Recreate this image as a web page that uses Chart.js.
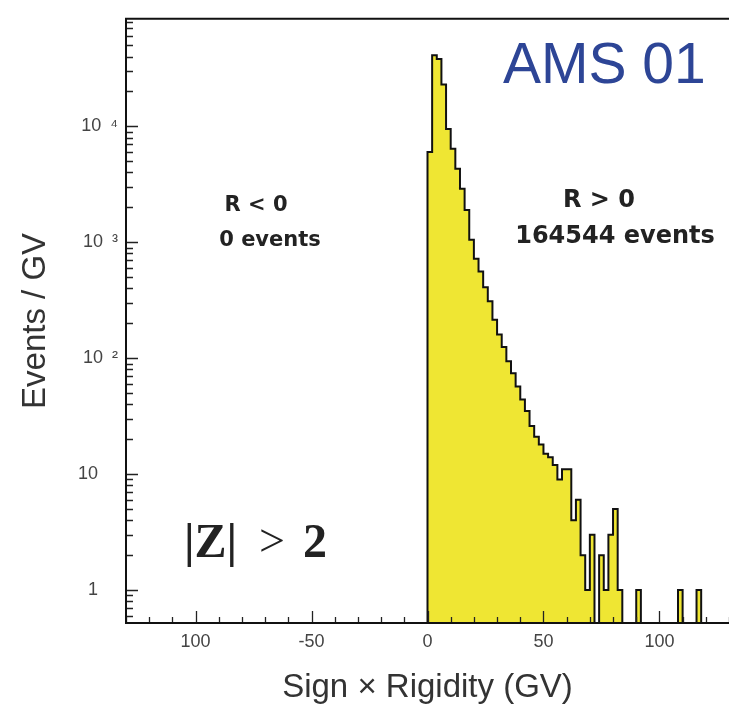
<!DOCTYPE html>
<html>
<head>
<meta charset="utf-8">
<title>AMS 01 - |Z| > 2 - Sign x Rigidity</title>
<script src="https://cdn.jsdelivr.net/npm/chart.js@4.4.1/dist/chart.umd.min.js"></script>
<style>
  html, body { margin: 0; padding: 0; background: #fff; overflow: hidden; }
  #chart { display: block; }
</style>
</head>
<body>
<canvas id="chart" width="729" height="714"></canvas>
<script>
/* AMS-01 |Z|>2 : events per GV vs sign x rigidity */

// lower edge of each rigidity bin (GV), bins are 2 GV wide
var BIN_LOW = [0, 2, 4, 6, 8, 10, 12, 14, 16, 18,
  20, 22, 24, 26, 28, 30, 32, 34, 36, 38,
  40, 42, 44, 46, 48, 50, 52, 54, 56, 58,
  60, 62, 64, 66, 68, 70, 72, 74, 76, 78,
  80, 82, 84, 86, 88, 90, 92, 94, 96, 98,
  100, 102, 104, 106, 108, 110, 112, 114, 116];
var BIN_WIDTH = 2;

// events / GV (R > 0 only, R < 0 is empty)
var EVENTS = [6000, 41000, 38000, 23000, 9500, 6400, 4300, 2900, 1900, 1050,
  720, 560, 410, 310, 215, 160, 125, 94, 74, 57,
  44, 35, 26, 21, 18, 15, 14, 12, 9, 11,
  11, 4, 6, 2, 1, 3, 0, 2, 1, 3,
  5, 1, 0, 0, 0, 1, 0, 0, 0, 0,
  0, 0, 0, 0, 1, 0, 0, 0, 1];

var X_MIN = -130;
var X_MAX = 130;
var X_TICK_VALUES = [-100, -50, 0, 50, 100];
var X_TICK_LABELS = ['100', '-50', '0', '50', '100'];

var Y_MIN = 0.52;
var Y_MAX = 84600;
var Y_TICK_VALUES = [1, 10, 100, 1000, 10000];
var Y_TICK_LABELS = ['1\u2007\u2007', '10\u2007\u2007', '10\u2002\u00b2', '10\u2002\u00b3', '10\u2002\u2074'];

var Y_FLOOR = 0.1; // empty bins are drawn below the axis
var SANS = '"Liberation Sans", Arial, Helvetica, sans-serif';

function buildHistogramPoints() {
  var pts = [{ x: BIN_LOW[0], y: Y_FLOOR }];
  var i;
  for (i = 0; i < EVENTS.length; i += 1) {
    pts.push({ x: BIN_LOW[i], y: EVENTS[i] > 0 ? EVENTS[i] : Y_FLOOR });
  }
  pts.push({ x: BIN_LOW[BIN_LOW.length - 1] + BIN_WIDTH, y: Y_FLOOR });
  return pts;
}

// inward tick marks and the frame, ROOT style
var frameTicks = {
  id: 'frameTicks',
  afterDatasetsDraw: function (chart) {
    var ctx = chart.ctx;
    var a = chart.chartArea;
    var xs = chart.scales.x;
    var ys = chart.scales.y;
    var v, k, m, px, py, len;

    ctx.save();
    ctx.strokeStyle = '#222';
    ctx.lineWidth = 1.3;
    ctx.beginPath();
    for (v = X_MIN; v <= X_MAX; v += 10) {
      px = Math.round(xs.getPixelForValue(v)) + 0.5;
      len = v % 50 === 0 ? 12 : 6;
      ctx.moveTo(px, a.bottom);
      ctx.lineTo(px, a.bottom - len);
    }
    for (k = -1; k <= 4; k += 1) {
      for (m = 1; m <= 9; m += 1) {
        v = m * Math.pow(10, k);
        if (v < Y_MIN || v > Y_MAX) {
          continue;
        }
        py = Math.round(ys.getPixelForValue(v)) + 0.5;
        len = m === 1 ? 12 : 7;
        ctx.moveTo(a.left, py);
        ctx.lineTo(a.left + len, py);
      }
    }
    ctx.stroke();

    ctx.strokeStyle = '#111';
    ctx.lineWidth = 2;
    ctx.beginPath();
    ctx.moveTo(a.right, a.top);
    ctx.lineTo(a.left, a.top);
    ctx.lineTo(a.left, a.bottom);
    ctx.lineTo(a.right, a.bottom);
    ctx.stroke();
    ctx.restore();
  }
};

var annotations = {
  id: 'annotations',
  afterDraw: function (chart) {
    var ctx = chart.ctx;
    ctx.save();
    ctx.textBaseline = 'alphabetic';

    ctx.fillStyle = '#2d4596';
    ctx.font = '57px ' + SANS;
    ctx.textAlign = 'left';
    ctx.fillText('AMS 01', 503, 83);

    ctx.fillStyle = '#222';
    ctx.font = 'bold 24px "DejaVu Sans", sans-serif';
    ctx.textAlign = 'center';
    ctx.fillText('R > 0', 599, 207);
    ctx.fillText('164544 events', 615, 243);

    ctx.font = 'bold 21px "DejaVu Sans", sans-serif';
    ctx.fillText('R < 0', 256, 211);
    ctx.fillText('0 events', 270, 246);

    ctx.textAlign = 'left';
    ctx.font = 'bold 48px "Liberation Serif", "Times New Roman", serif';
    ctx.fillText('|Z|', 184, 557);
    ctx.fillText('2', 303, 557);
    ctx.font = '46px "Liberation Serif", "Times New Roman", serif';
    ctx.fillText('>', 259, 556);
    ctx.restore();
  }
};

function initChart() {
  var canvas = document.getElementById('chart');

  new Chart(canvas.getContext('2d'), {
    type: 'line',
    data: {
      datasets: [{
        label: 'Events / GV',
        data: buildHistogramPoints(),
        stepped: true,
        fill: 'start',
        backgroundColor: '#efe633',
        borderColor: '#111',
        borderWidth: 2,
        pointRadius: 0,
        tension: 0
      }]
    },
    options: {
      responsive: false,
      animation: false,
      layout: { padding: { top: 16, right: 0, bottom: 0, left: 0 } },
      plugins: {
        legend: { display: false },
        tooltip: { enabled: false }
      },
      scales: {
        x: {
          type: 'linear',
          min: X_MIN,
          max: X_MAX,
          bounds: 'data',
          grid: { display: false, drawTicks: false },
          border: { display: false },
          afterBuildTicks: function (scale) {
            scale.ticks = X_TICK_VALUES.map(function (v) { return { value: v }; });
          },
          afterFit: function (scale) {
            scale.height = 91;
          },
          ticks: {
            autoSkip: false,
            maxRotation: 0,
            padding: 8,
            color: '#444',
            font: { family: SANS, size: 18 },
            callback: function (value, index) {
              return X_TICK_LABELS[index];
            }
          },
          title: {
            display: true,
            text: 'Sign \u00d7 Rigidity (GV)',
            color: '#333',
            font: { family: SANS, size: 33 },
            padding: { top: 0, bottom: 6 }
          }
        },
        y: {
          type: 'logarithmic',
          min: Y_MIN,
          max: Y_MAX,
          bounds: 'data',
          grid: { display: false, drawTicks: false },
          border: { display: false },
          afterBuildTicks: function (scale) {
            scale.ticks = Y_TICK_VALUES.map(function (v) { return { value: v, major: true }; });
          },
          afterFit: function (scale) {
            scale.width = 126;
          },
          ticks: {
            autoSkip: false,
            padding: 8,
            color: '#444',
            font: { family: SANS, size: 18 },
            callback: function (value, index) {
              return Y_TICK_LABELS[index];
            }
          },
          title: {
            display: true,
            text: 'Events / GV',
            color: '#333',
            font: { family: SANS, size: 33 },
            padding: { top: 16, bottom: 0 }
          }
        }
      }
    },
    plugins: [frameTicks, annotations]
  });
}

document.addEventListener('DOMContentLoaded', initChart);
</script>
</body>
</html>
